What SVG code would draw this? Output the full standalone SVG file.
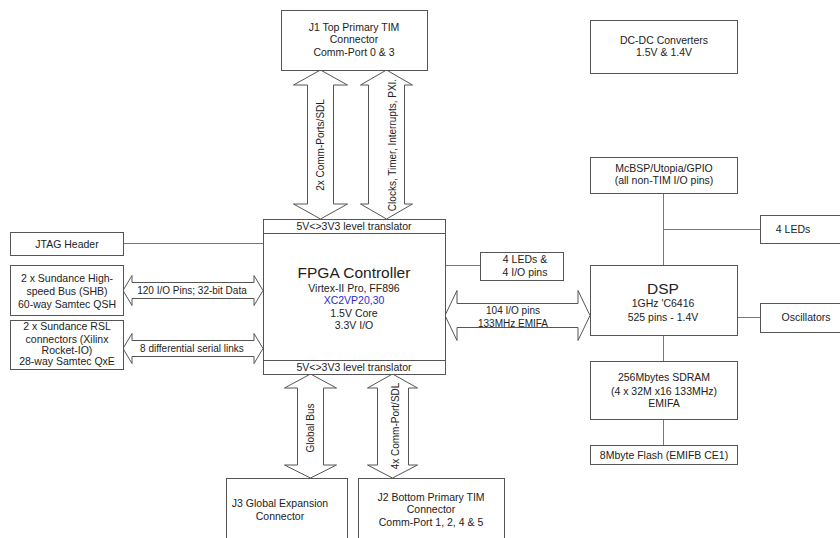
<svg xmlns="http://www.w3.org/2000/svg" width="840" height="538" viewBox="0 0 840 538">
<style>
.box{fill:#fff;stroke:#555;stroke-width:1}
.ln{stroke:#777;stroke-width:1;fill:none}
.arr{fill:#fff;stroke:#555;stroke-width:1;stroke-linejoin:miter}
text{font-family:"Liberation Sans",Arial,sans-serif;fill:#222;text-anchor:middle}
.t{font-size:10.5px}
.a{font-size:10px}
.big{font-size:15.5px}
.blue{fill:#2b2bd0}
</style>
<rect width="840" height="538" fill="#fff"/>
<g id="connectors">
<line class="ln" x1="123" y1="243.5" x2="263" y2="243.5"/>
<line class="ln" x1="445" y1="265.5" x2="480" y2="265.5"/>
<line class="ln" x1="663.5" y1="193" x2="663.5" y2="265"/>
<line class="ln" x1="663.5" y1="229.5" x2="760" y2="229.5"/>
<line class="ln" x1="737" y1="317.5" x2="760" y2="317.5"/>
<line class="ln" x1="663.5" y1="335" x2="663.5" y2="361"/>
<line class="ln" x1="663.5" y1="419" x2="663.5" y2="445"/>
<g id="arrow-shb">
<polygon class="arr" points="123,290.5 132,275.5 132,282.5 254,282.5 254,275.5 263,290.5 254,305.5 254,298.5 132,298.5 132,305.5"/>
<text class="a" x="192" y="294">120 I/O Pins; 32-bit Data</text>
</g>
<g id="arrow-rsl">
<polygon class="arr" points="123,348.5 132,333.5 132,340.5 254,340.5 254,333.5 263,348.5 254,363.5 254,356.5 132,356.5 132,363.5"/>
<text class="a" x="192" y="352">8 differential serial links</text>
</g>
<g id="arrow-emifa">
<polygon class="arr" points="445,315.5 457,290.5 457,303.5 578,303.5 578,290.5 590,315.5 578,340.5 578,327.5 457,327.5 457,340.5"/>
<text class="a" x="513" y="313.5">104 I/O pins</text>
<text class="a" x="513" y="326.5">133MHz EMIFA</text>
</g>
<g id="arrow-j1-comm">
<polygon class="arr" points="320.5,70 347.5,85 333.5,85 333.5,204 347.5,204 320.5,219 293.5,204 307.5,204 307.5,85 293.5,85"/>
<text class="a" transform="translate(324,145) rotate(-90)">2x Comm-Ports/SDL</text>
</g>
<g id="arrow-j1-clocks">
<polygon class="arr" points="386.5,70 412.5,85 404.5,85 404.5,204 412.5,204 386.5,219 360.5,204 368.5,204 368.5,85 360.5,85"/>
<text class="a" transform="translate(396,145) rotate(-90)">Clocks, Timer, Interrupts, PXI.</text>
</g>
<g id="arrow-global">
<polygon class="arr" points="310.5,374 336.5,388 323.5,388 323.5,465 336.5,465 310.5,478 284.5,465 297.5,465 297.5,388 284.5,388"/>
<text class="a" transform="translate(314,428) rotate(-90)">Global Bus</text>
</g>
<g id="arrow-j2">
<polygon class="arr" points="392.5,374 417.5,388 408.5,388 408.5,465 417.5,465 392.5,478 367.5,465 377.5,465 377.5,388 367.5,388"/>
<text class="a" transform="translate(398.5,426) rotate(-90)">4x Comm-Port/SDL</text>
</g>
</g>
<g id="j1">
<rect class="box" x="281.5" y="10.5" width="146" height="60"/>
<text class="t" x="354" y="30.5">J1 Top Primary TIM</text>
<text class="t" x="354" y="43">Connector</text>
<text class="t" x="354" y="55.5">Comm-Port 0 &amp; 3</text>
</g>
<g id="dcdc">
<rect class="box" x="590.5" y="20.5" width="147" height="53"/>
<text class="t" x="664" y="44">DC-DC Converters</text>
<text class="t" x="664" y="56">1.5V &amp; 1.4V</text>
</g>
<g id="mcbsp">
<rect class="box" x="590.5" y="157.5" width="147" height="36"/>
<text class="t" x="664" y="172">McBSP/Utopia/GPIO</text>
<text class="t" x="664" y="184">(all non-TIM I/O pins)</text>
</g>
<g id="leds-right">
<rect class="box" x="760.5" y="215.5" width="100" height="28"/>
<text class="t" x="793" y="233">4 LEDs</text>
</g>
<g id="jtag">
<rect class="box" x="10.5" y="232.5" width="113" height="23"/>
<text class="t" x="67" y="247.5">JTAG Header</text>
</g>
<g id="shb">
<rect class="box" x="10.5" y="265.5" width="113" height="50"/>
<text class="t" x="67" y="282">2 x Sundance High-</text>
<text class="t" x="67" y="295">speed Bus (SHB)</text>
<text class="t" x="67" y="307.5">60-way Samtec QSH</text>
</g>
<g id="rsl">
<rect class="box" x="10.5" y="320.5" width="113" height="49"/>
<text class="t" x="67" y="330">2 x Sundance RSL</text>
<text class="t" x="67" y="342.5">connectors (Xilinx</text>
<text class="t" x="67" y="354">Rocket-IO)</text>
<text class="t" x="67" y="365">28-way Samtec QxE</text>
</g>
<g id="fpga">
<rect class="box" x="263.5" y="219.5" width="182" height="155"/>
<line class="ln" x1="263.5" y1="233.5" x2="445.5" y2="233.5" style="stroke:#555"/>
<line class="ln" x1="263.5" y1="360.5" x2="445.5" y2="360.5" style="stroke:#555"/>
<text class="t" x="354" y="230">5V&lt;&gt;3V3 level translator</text>
<text class="big" x="354" y="278">FPGA Controller</text>
<text class="t" x="354" y="292">Virtex-II Pro, FF896</text>
<text class="t blue" x="354" y="304">XC2VP20,30</text>
<text class="t" x="354" y="317">1.5V Core</text>
<text class="t" x="354" y="328.5">3.3V I/O</text>
<text class="t" x="354" y="371">5V&lt;&gt;3V3 level translator</text>
</g>
<g id="leds-io">
<rect class="box" x="480.5" y="252.5" width="83" height="28"/>
<text class="t" x="525" y="263">4 LEDs &amp;</text>
<text class="t" x="525" y="276">4 I/O pins</text>
</g>
<g id="dsp">
<rect class="box" x="590.5" y="265.5" width="147" height="70"/>
<text class="big" x="663" y="294">DSP</text>
<text class="t" x="663" y="307">1GHz 'C6416</text>
<text class="t" x="663" y="321">525 pins - 1.4V</text>
</g>
<g id="oscillators">
<rect class="box" x="760.5" y="303.5" width="100" height="29"/>
<text class="t" x="806" y="321">Oscillators</text>
</g>
<g id="sdram">
<rect class="box" x="590.5" y="361.5" width="147" height="58"/>
<text class="t" x="664" y="381">256Mbytes SDRAM</text>
<text class="t" x="664" y="394.5">(4 x 32M x16 133MHz)</text>
<text class="t" x="664" y="407">EMIFA</text>
</g>
<g id="flash">
<rect class="box" x="590.5" y="445.5" width="147" height="19"/>
<text class="t" x="664" y="458.5">8Mbyte Flash (EMIFB CE1)</text>
</g>
<g id="j3">
<rect class="box" x="226.5" y="478.5" width="121" height="70"/>
<text class="t" x="280" y="507">J3 Global Expansion</text>
<text class="t" x="280" y="520">Connector</text>
</g>
<g id="j2">
<rect class="box" x="358.5" y="478.5" width="146" height="70"/>
<text class="t" x="431" y="501">J2 Bottom Primary TIM</text>
<text class="t" x="431" y="513">Connector</text>
<text class="t" x="431" y="526">Comm-Port 1, 2, 4 &amp; 5</text>
</g>
</svg>
